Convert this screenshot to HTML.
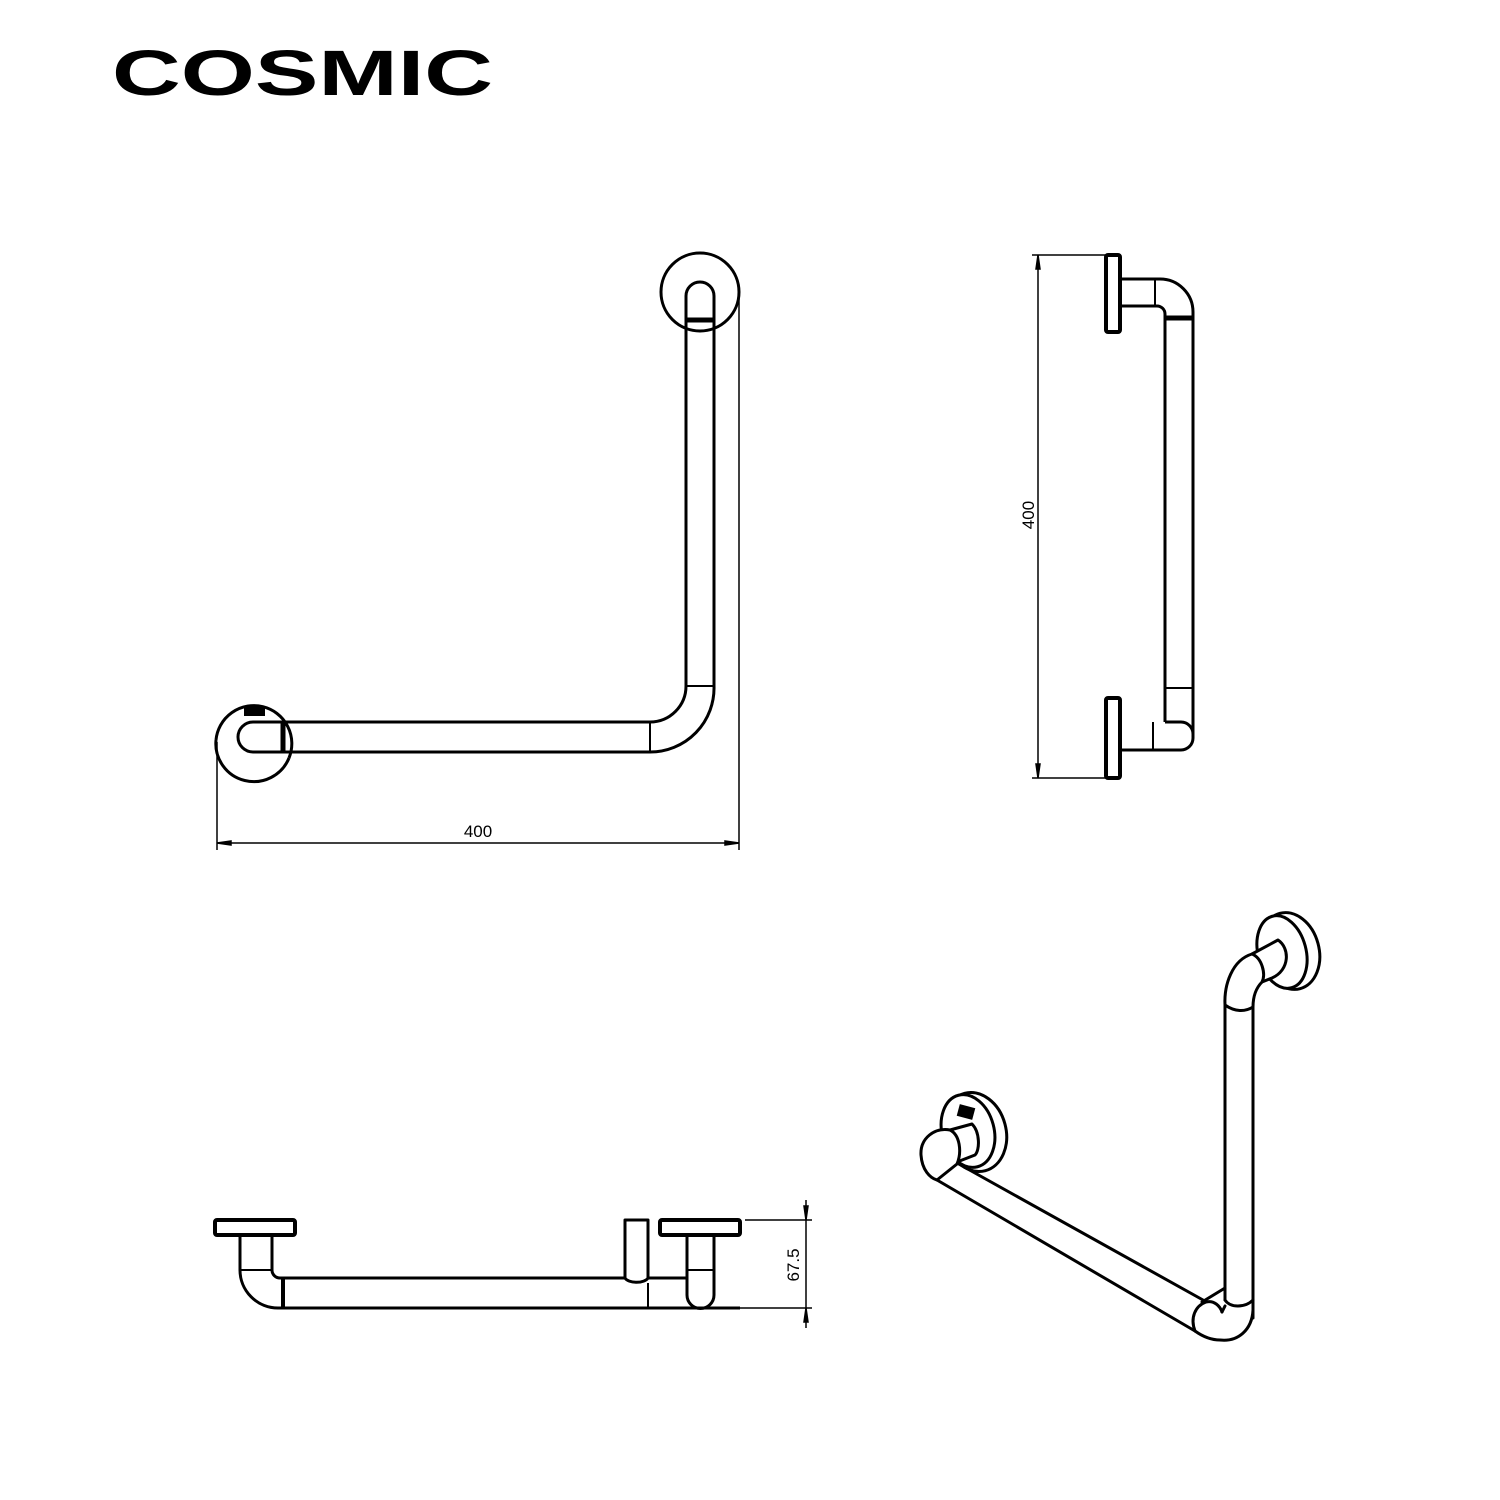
<!DOCTYPE html>
<html><head><meta charset="utf-8"><style>
html,body{margin:0;padding:0;background:#fff;}
svg{display:block;}
</style></head><body>
<svg width="1500" height="1500" viewBox="0 0 1500 1500" xmlns="http://www.w3.org/2000/svg">
<rect width="1500" height="1500" fill="#fff"/>
<text x="112" y="95" font-family="Liberation Sans, sans-serif" font-weight="bold" font-size="64" textLength="381" lengthAdjust="spacingAndGlyphs" fill="#000">COSMIC</text>

<g fill="none" stroke="#000" stroke-width="3" stroke-linejoin="round">
<!-- View 1 -->
<circle cx="700" cy="292" r="39"/>
<path d="M686,686 V296 A14,14 0 0 1 714,296 V686"/>
<line x1="686" y1="320" x2="714" y2="320" stroke-width="5"/>
<line x1="686" y1="686" x2="714" y2="686" stroke-width="2"/>
<path d="M686,686 A36,36 0 0 1 650,722 H283"/>
<path d="M714,686 A64,64 0 0 1 650,752 H283"/>
<line x1="650" y1="722" x2="650" y2="752" stroke-width="2"/>
<path d="M216,740 A38,38 0 1 1 289,758" />
<path d="M216,740 A38,38 0 0 0 289,758" />
<path d="M283,722 H253 A15,15 0 0 0 253,752 H283"/>
<line x1="283" y1="722" x2="283" y2="752" stroke-width="5"/>
<rect x="244" y="706" width="21" height="10" fill="#000" stroke="none"/>
</g>
<g stroke="#000" stroke-width="1.5" fill="none">
<line x1="217" y1="742" x2="217" y2="850"/>
<line x1="739" y1="292" x2="739" y2="850"/>
<line x1="217" y1="843" x2="739" y2="843"/>
<path d="M217,843 l14,-2 v4 z M739,843 l-14,-2 v4 z" fill="#000"/>
</g>
<text x="478" y="837" font-family="Liberation Sans, sans-serif" font-size="17" text-anchor="middle">400</text>

<!-- View 2 -->
<g fill="none" stroke="#000" stroke-width="3" stroke-linejoin="round">
<rect x="1106" y="255" width="14" height="77" rx="2" stroke-width="4"/>
<rect x="1106" y="698" width="14" height="80" rx="2" stroke-width="4"/>
<path d="M1120,279 H1160 A33,33 0 0 1 1193,312 V738 A12,12 0 0 1 1181,750 H1120"/>
<path d="M1120,306 H1157 A8,8 0 0 1 1165,314 V722"/>
<path d="M1165,722 H1181 A12,12 0 0 1 1193,734"/>
<line x1="1155" y1="279" x2="1155" y2="306" stroke-width="2"/>
<line x1="1165" y1="318" x2="1193" y2="318" stroke-width="5"/>
<line x1="1165" y1="688" x2="1193" y2="688" stroke-width="2"/>
<line x1="1153" y1="722" x2="1153" y2="750" stroke-width="2"/>
</g>
<g stroke="#000" stroke-width="1.5" fill="#000">
<line x1="1032" y1="255" x2="1105" y2="255"/>
<line x1="1032" y1="778" x2="1105" y2="778"/>
<line x1="1038" y1="255" x2="1038" y2="778"/>
<path d="M1038,255 l-2,14 h4 z M1038,778 l-2,-14 h4 z"/>
</g>
<text transform="translate(1034,515) rotate(-90)" font-family="Liberation Sans, sans-serif" font-size="17" text-anchor="middle">400</text>

<!-- View 3 -->
<g fill="none" stroke="#000" stroke-width="3" stroke-linejoin="round">
<rect x="215" y="1220" width="80" height="15" rx="2" stroke-width="4"/>
<rect x="660" y="1220" width="80" height="15" rx="2" stroke-width="4"/>
<path d="M240,1235 V1270 A38,38 0 0 0 278,1308 H740"/>
<path d="M272,1235 V1270 A8,8 0 0 0 280,1278 H625"/>
<line x1="240" y1="1270" x2="272" y2="1270" stroke-width="2"/>
<line x1="283" y1="1278" x2="283" y2="1308" stroke-width="4"/>
<path d="M625,1220 H648 V1278 A12,6 0 0 1 625,1278 Z"/>
<line x1="648" y1="1278" x2="687" y2="1278"/>
<line x1="648" y1="1283" x2="648" y2="1308" stroke-width="2"/>
<path d="M687,1235 V1295 A13,13 0 0 0 714,1295 V1235"/>
<line x1="687" y1="1270" x2="714" y2="1270" stroke-width="2"/>
</g>
<g stroke="#000" stroke-width="1.5" fill="#000">
<line x1="745" y1="1220" x2="812" y2="1220"/>
<line x1="740" y1="1308" x2="812" y2="1308"/>
<line x1="806" y1="1200" x2="806" y2="1328"/>
<path d="M806,1220 l-2,-14 h4 z M806,1308 l-2,14 h4 z"/>
</g>
<text transform="translate(799,1265) rotate(-90)" font-family="Liberation Sans, sans-serif" font-size="17" text-anchor="middle">67.5</text>

<!-- View 4 isometric -->
<g fill="#fff" stroke="#000" stroke-width="3" stroke-linejoin="round" stroke-linecap="round">
<!-- vertical tube -->
<path d="M1225,1005 V1300 M1253,1007 V1318" fill="none"/>
<path d="M1225,1300 C1230,1308 1245,1308 1253,1300" fill="none"/>
<!-- top rosette -->
<ellipse cx="1290" cy="951" rx="29" ry="39" transform="rotate(-15 1290 951)"/>
<ellipse cx="1282" cy="952" rx="24" ry="37" transform="rotate(-15 1282 952)"/>
<!-- top cylinder -->
<path d="M1252,954 L1278,940 C1290,948 1290,970 1272,978 L1262,982 Z"/>
<!-- top elbow -->
<path d="M1252,954 C1232,960 1224,985 1225,1005 C1235,1012 1245,1012 1253,1007 C1253,1000 1254,990 1262,982 C1266,974 1262,958 1252,954 Z"/>
<!-- diagonal tube -->
<path d="M957,1163 L1203,1300 M937,1180 L1195,1331" fill="none"/>
<!-- bottom elbow -->
<path d="M1253,1310 C1252,1330 1238,1342 1220,1340 C1210,1340 1202,1336 1195,1331" fill="none"/>
<path d="M1195,1331 C1190,1318 1195,1306 1206,1302 C1214,1300 1220,1306 1222,1312" fill="none"/>
<path d="M1225,1288 L1202,1302 M1222,1312 L1225,1306" fill="none"/>
<!-- left rosette -->
<ellipse cx="975" cy="1132" rx="31" ry="40" transform="rotate(-15 975 1132)"/>
<ellipse cx="968" cy="1131" rx="26" ry="37" transform="rotate(-15 968 1131)"/>
<!-- left cylinder -->
<path d="M950,1130 L972,1124 C980,1132 980,1150 975,1155 L957,1162 Z"/>
<!-- left elbow -->
<path d="M950,1130 C935,1127 920,1138 921,1155 C922,1170 930,1178 937,1180 L957,1164 C962,1152 960,1135 950,1130 Z"/>
</g>
<rect x="958" y="1106" width="16" height="12" fill="#000" transform="rotate(15 966 1112)"/>
</svg>
</body></html>
